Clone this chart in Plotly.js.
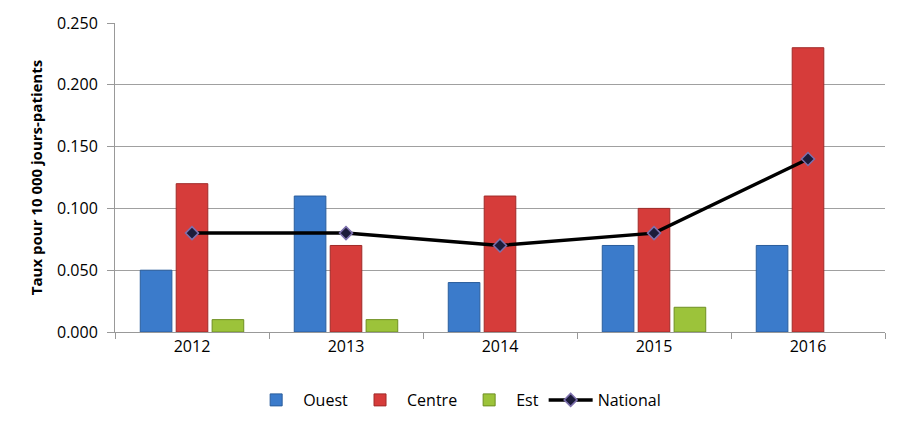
<!DOCTYPE html>
<html><head><meta charset="utf-8">
<script src="https://cdn.plot.ly/plotly-3.0.1.min.js"></script>
<style>html,body{margin:0;padding:0;background:#fff}#c{width:905px;height:432px}</style>
</head><body><div id="c"></div>
<script>
const years = ['2012','2013','2014','2015','2016'];
const ouest = [0.05, 0.11, 0.04, 0.07, 0.07];
const centre = [0.12, 0.07, 0.11, 0.10, 0.23];
const est = [0.01, 0.01, null, 0.02, null];
const national = [0.08, 0.08, 0.07, 0.08, 0.14];
const yTicks = [0, 0.05, 0.10, 0.15, 0.20, 0.25];
const yTickText = ['0.000','0.050','0.100','0.150','0.200','0.250'];

const font = {family: 'Open Sans, sans-serif', size: 16, color: '#000'};
const traces = [
  {type:'bar', name:'Ouest', x:years, y:ouest, marker:{color:'#3b7bcb', line:{color:'#2a5d9c', width:1}}},
  {type:'bar', name:'Centre', x:years, y:centre, marker:{color:'#d63c3a', line:{color:'#a02a28', width:1}}},
  {type:'bar', name:'Est', x:years, y:est, marker:{color:'#9cc33a', line:{color:'#6e8f22', width:1}}},
  {type:'scatter', mode:'lines+markers', name:'National', x:years, y:national,
   line:{color:'#000', width:3.5},
   marker:{symbol:'diamond', size:10, color:'#1c1c3a', line:{color:'#7d70ad', width:1.5}}}
];
const layout = {
  width:905, height:432,
  margin:{l:115, r:20, t:23, b:100},
  paper_bgcolor:'#fff', plot_bgcolor:'#fff',
  font: font,
  barmode:'group', bargap:0.3, bargroupgap:0.12,
  showlegend:true,
  legend:{orientation:'h', x:0.445, xanchor:'center', y:-0.22, yanchor:'middle', font:font, itemwidth:44, traceorder:'normal'},
  xaxis:{type:'category', showline:true, linecolor:'#999', linewidth:1, ticks:'outside', tickson:'boundaries', ticklen:6, tickcolor:'#999',
         showgrid:false, tickfont:font},
  yaxis:{range:[0,0.25], tickvals:yTicks, ticktext:yTickText, showline:true, linecolor:'#999', linewidth:1,
         ticks:'outside', ticklen:7, tickcolor:'#999', gridcolor:'#a0a0a0', gridwidth:1, zeroline:false, tickfont:font,
         ticklabelstandoff:6,
         title:{text:'Taux pour 10 000 jours-patients', font:{family:'Open Sans, sans-serif', size:15, color:'#000', weight:'bold'}, standoff:10}}
};
Plotly.newPlot('c', traces, layout, {displayModeBar:false, staticPlot:true});
</script></body></html>
